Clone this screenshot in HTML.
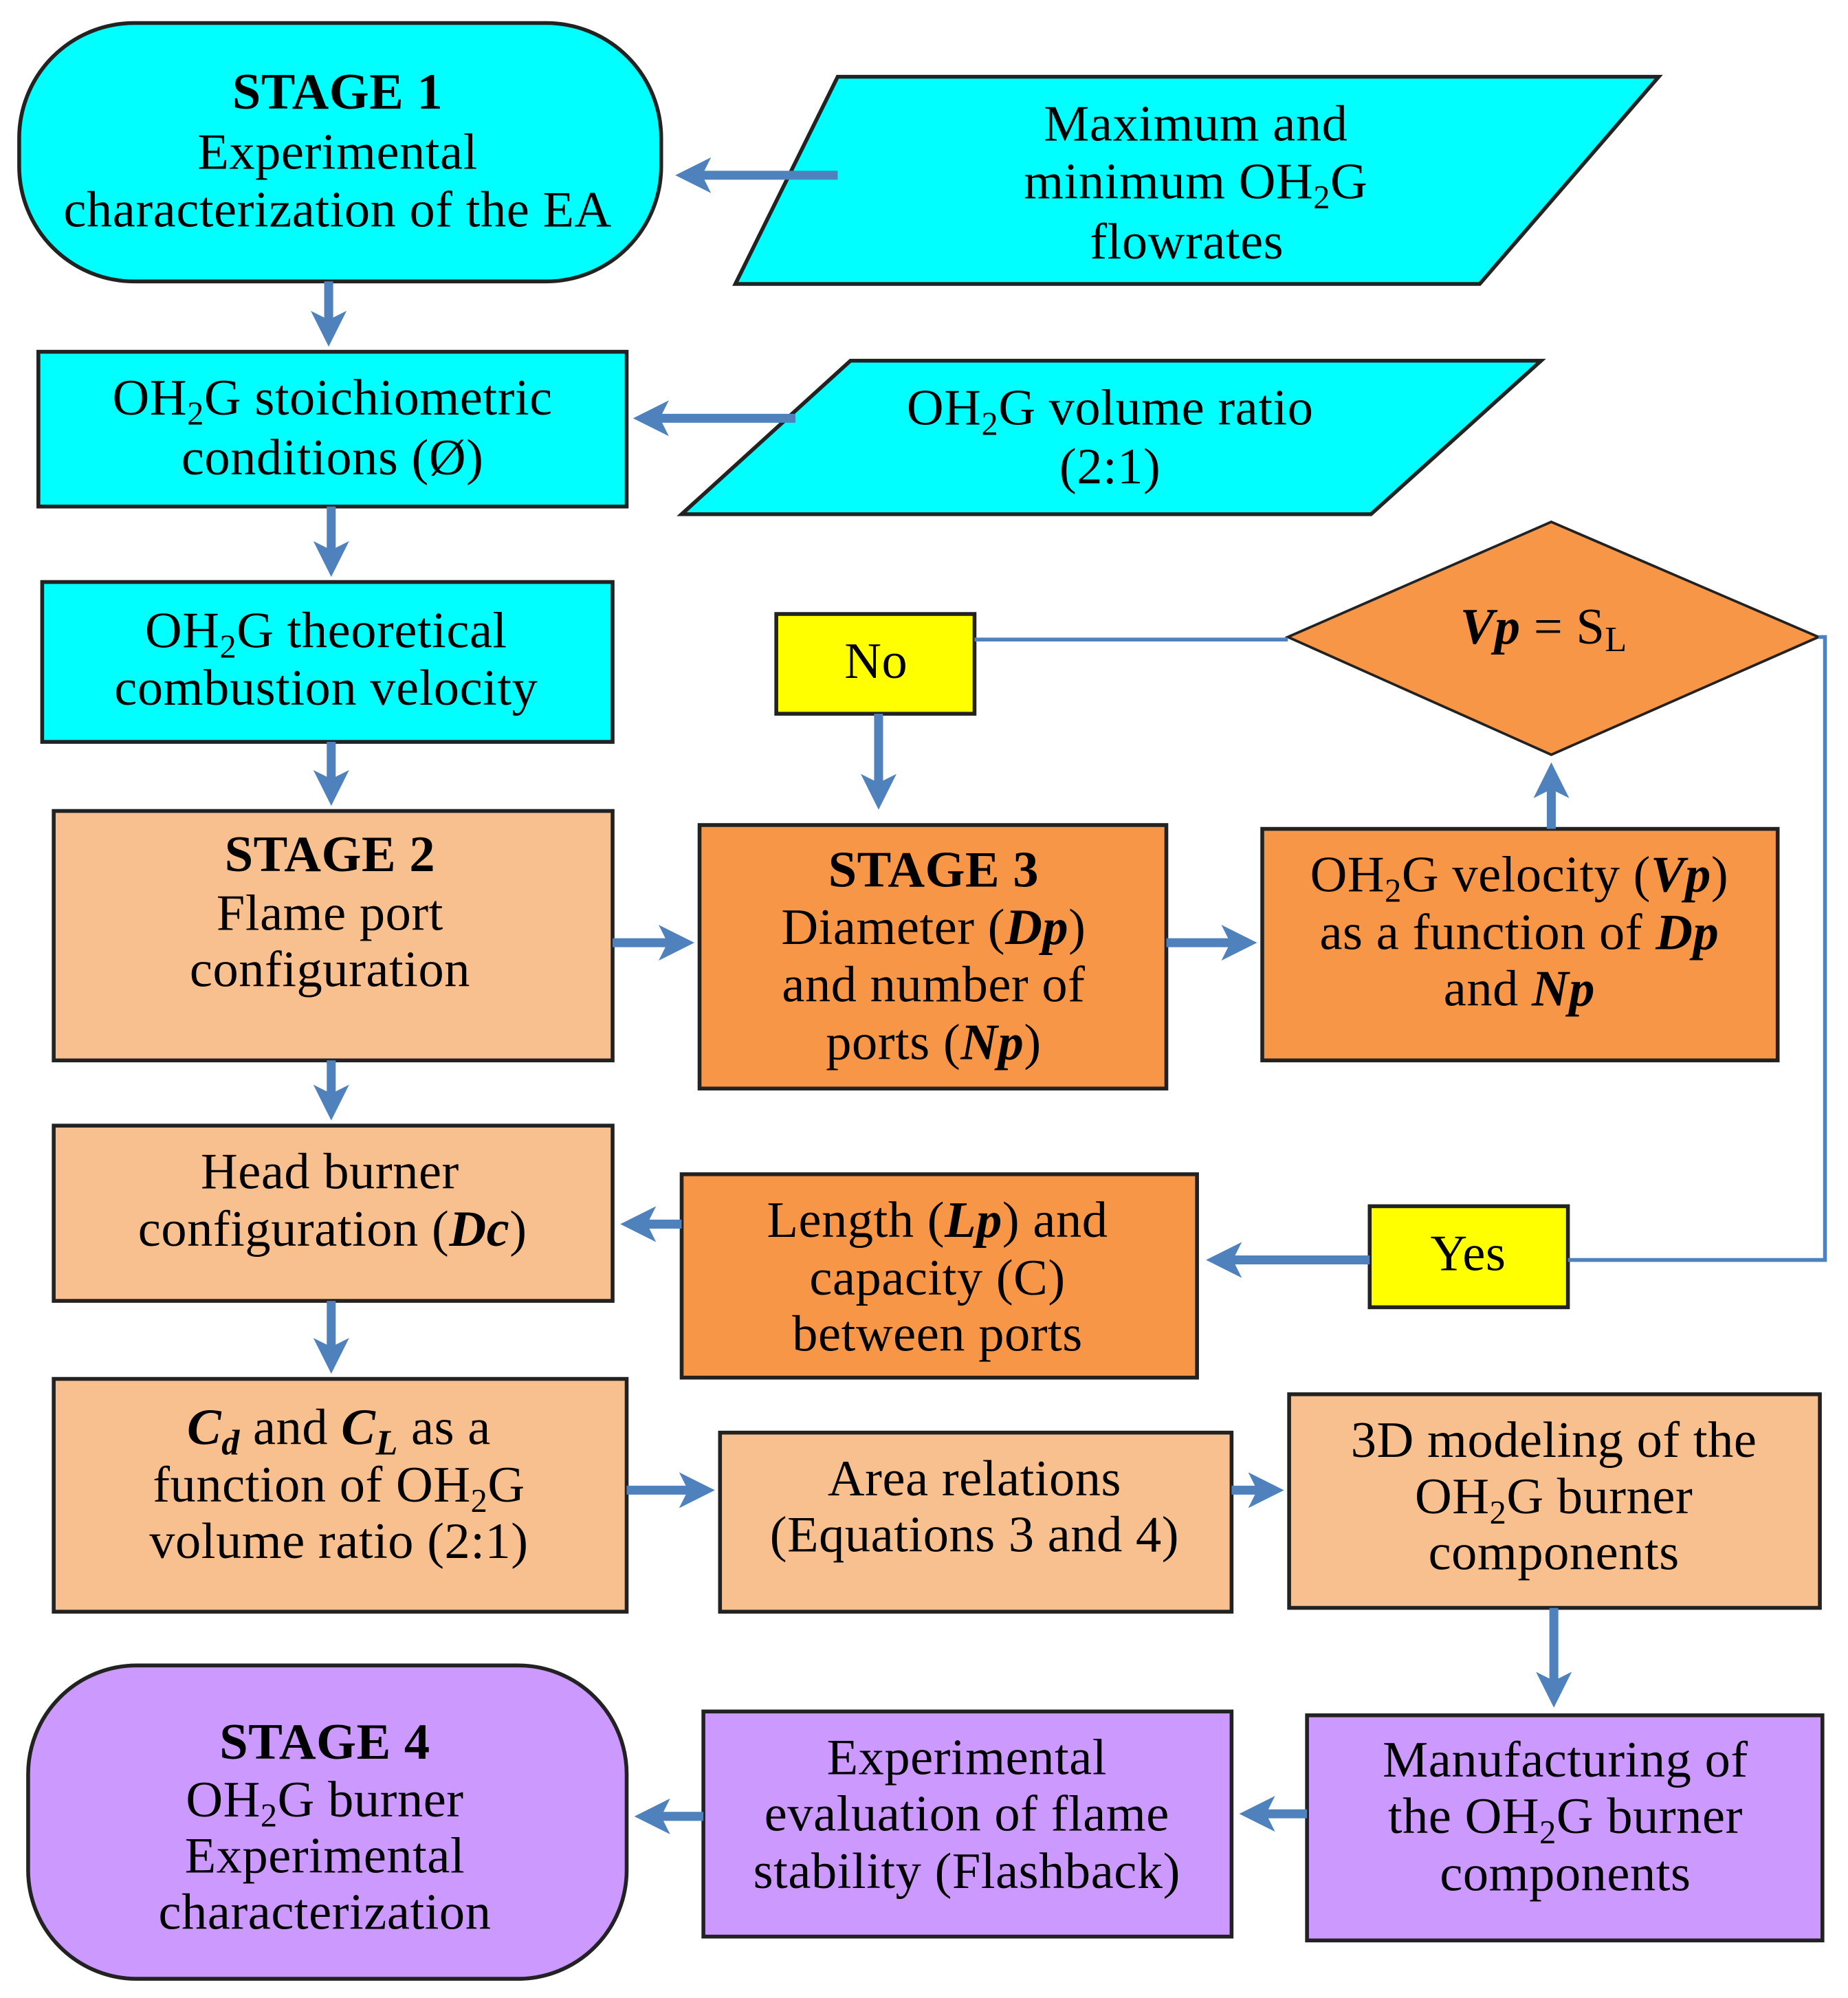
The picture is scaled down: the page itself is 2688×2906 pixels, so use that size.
<!DOCTYPE html>
<html><head><meta charset="utf-8"><style>
html,body{margin:0;padding:0;background:#fff;}
svg{display:block;}
text{font-family:"Liberation Serif",serif;font-size:40px;fill:#000;text-anchor:middle;letter-spacing:0.3px;}
.b{font-weight:bold;}
.i{font-style:italic;font-weight:bold;}
</style></head><body>
<svg width="2688" height="2906" viewBox="0 0 1445 1562" preserveAspectRatio="none" xmlns="http://www.w3.org/2000/svg">
<defs>
<marker id="a" markerWidth="4" markerHeight="4" refX="3" refY="2" orient="auto" markerUnits="strokeWidth">
<path d="M0,0 L4,2 L0,4 L1,2 Z" fill="#4F81BD"/></marker>
</defs>
<g stroke="#222" stroke-width="3">
<rect x="15" y="18" width="502" height="202" rx="90" ry="90" fill="#00FFFF"/>
<polygon points="655,60 1297,60 1157,222 575,222" fill="#00FFFF"/>
<rect x="30" y="275" width="460" height="121" fill="#00FFFF"/>
<polygon points="665,282 1205,282 1072,402 533,402" fill="#00FFFF"/>
<rect x="33" y="455" width="446" height="125" fill="#00FFFF"/>
<rect x="42" y="634" width="437" height="195" fill="#F9C08F"/>
<rect x="547" y="645" width="365" height="206" fill="#F79646"/>
<rect x="987" y="648" width="403" height="181" fill="#F79646"/>
<polygon points="1213,408 1422,498 1213,590 1007,498" fill="#F79646" stroke-width="2"/>
<rect x="607" y="480" width="155" height="78" fill="#FFFF00"/>
<rect x="1071" y="943" width="155" height="79" fill="#FFFF00"/>
<rect x="42" y="880" width="437" height="137" fill="#F9C08F"/>
<rect x="533" y="918" width="403" height="159" fill="#F79646"/>
<rect x="42" y="1078" width="448" height="182" fill="#F9C08F"/>
<rect x="563" y="1120" width="400" height="140" fill="#F9C08F"/>
<rect x="1008" y="1090" width="415" height="167" fill="#F9C08F"/>
<rect x="22" y="1302" width="468" height="245" rx="85" ry="85" fill="#CC99FF"/>
<rect x="550" y="1338" width="413" height="176" fill="#CC99FF"/>
<rect x="1022" y="1341" width="403" height="176" fill="#CC99FF"/>
</g>
<g stroke="#4F81BD" stroke-width="7" fill="none" marker-end="url(#a)">
<line x1="655" y1="137" x2="535" y2="137"/>
<line x1="257" y1="220" x2="257" y2="264"/>
<line x1="622" y1="327" x2="502" y2="327"/>
<line x1="259" y1="396" x2="259" y2="444"/>
<line x1="259" y1="580" x2="259" y2="623"/>
<line x1="479" y1="737" x2="536" y2="737"/>
<line x1="912" y1="737" x2="976" y2="737"/>
<line x1="1213" y1="648" x2="1213" y2="603"/>
<line x1="687" y1="558" x2="687" y2="626"/>
<line x1="1071" y1="985" x2="950" y2="985"/>
<line x1="259" y1="829" x2="259" y2="869"/>
<line x1="533" y1="957" x2="492" y2="957"/>
<line x1="259" y1="1017" x2="259" y2="1067"/>
<line x1="490" y1="1165" x2="552" y2="1165"/>
<line x1="963" y1="1165" x2="997" y2="1165"/>
<line x1="1215" y1="1257" x2="1215" y2="1328"/>
<line x1="1022" y1="1418" x2="976" y2="1418"/>
<line x1="550" y1="1420" x2="503" y2="1420"/>
</g>
<g stroke="#4F81BD" stroke-width="3" fill="none">
<polyline points="1007,500 762,500"/>
<polyline points="1422,498 1427,498 1427,985 1226,985"/>
</g>
<text x="264" y="85" class="b">STAGE 1</text>
<text x="264" y="132">Experimental</text>
<text x="264" y="177">characterization of the EA</text>
<text x="935" y="110">Maximum and</text>
<text x="935" y="155">minimum OH<tspan font-size="26" dy="8">2</tspan><tspan dy="-8">G</tspan></text>
<text x="928" y="202">flowrates</text>
<text x="260" y="324">OH<tspan font-size="26" dy="8">2</tspan><tspan dy="-8">G stoichiometric</tspan></text>
<text x="260" y="371">conditions (Ø)</text>
<text x="868" y="332">OH<tspan font-size="26" dy="8">2</tspan><tspan dy="-8">G volume ratio</tspan></text>
<text x="868" y="378">(2:1)</text>
<text x="255" y="506">OH<tspan font-size="26" dy="8">2</tspan><tspan dy="-8">G theoretical</tspan></text>
<text x="255" y="551">combustion velocity</text>
<text x="685" y="530">No</text>
<text x="1207" y="503"><tspan class="i">Vp</tspan> = S<tspan font-size="28" dy="6">L</tspan></text>
<text x="258" y="681" class="b">STAGE 2</text>
<text x="258" y="727">Flame port</text>
<text x="258" y="771">configuration</text>
<text x="730" y="693" class="b">STAGE 3</text>
<text x="730" y="738">Diameter (<tspan class="i">Dp</tspan>)</text>
<text x="730" y="783">and number of</text>
<text x="730" y="828">ports (<tspan class="i">Np</tspan>)</text>
<text x="1188" y="697">OH<tspan font-size="26" dy="8">2</tspan><tspan dy="-8">G velocity (</tspan><tspan class="i">Vp</tspan>)</text>
<text x="1188" y="742">as a function of <tspan class="i">Dp</tspan></text>
<text x="1188" y="786">and <tspan class="i">Np</tspan></text>
<text x="258" y="929">Head burner</text>
<text x="260" y="974">configuration (<tspan class="i">Dc</tspan>)</text>
<text x="733" y="967">Length (<tspan class="i">Lp</tspan>) and</text>
<text x="733" y="1012">capacity (C)</text>
<text x="733" y="1056">between ports</text>
<text x="1148" y="993">Yes</text>
<text x="265" y="1129"><tspan class="i">C</tspan><tspan class="i" font-size="28" dy="8">d</tspan><tspan dy="-8"> and </tspan><tspan class="i">C</tspan><tspan class="i" font-size="28" dy="8">L</tspan><tspan dy="-8"> as a</tspan></text>
<text x="265" y="1174">function of OH<tspan font-size="26" dy="8">2</tspan><tspan dy="-8">G</tspan></text>
<text x="265" y="1218">volume ratio (2:1)</text>
<text x="762" y="1169">Area relations</text>
<text x="762" y="1213">(Equations 3 and 4)</text>
<text x="1215" y="1139">3D modeling of the</text>
<text x="1215" y="1183">OH<tspan font-size="26" dy="8">2</tspan><tspan dy="-8">G burner</tspan></text>
<text x="1215" y="1227">components</text>
<text x="254" y="1375" class="b">STAGE 4</text>
<text x="254" y="1420">OH<tspan font-size="26" dy="8">2</tspan><tspan dy="-8">G burner</tspan></text>
<text x="254" y="1464">Experimental</text>
<text x="254" y="1508">characterization</text>
<text x="756" y="1387">Experimental</text>
<text x="756" y="1431">evaluation of flame</text>
<text x="756" y="1476">stability (Flashback)</text>
<text x="1224" y="1389">Manufacturing of</text>
<text x="1224" y="1433">the OH<tspan font-size="26" dy="8">2</tspan><tspan dy="-8">G burner</tspan></text>
<text x="1224" y="1478">components</text>
</svg>
</body></html>
